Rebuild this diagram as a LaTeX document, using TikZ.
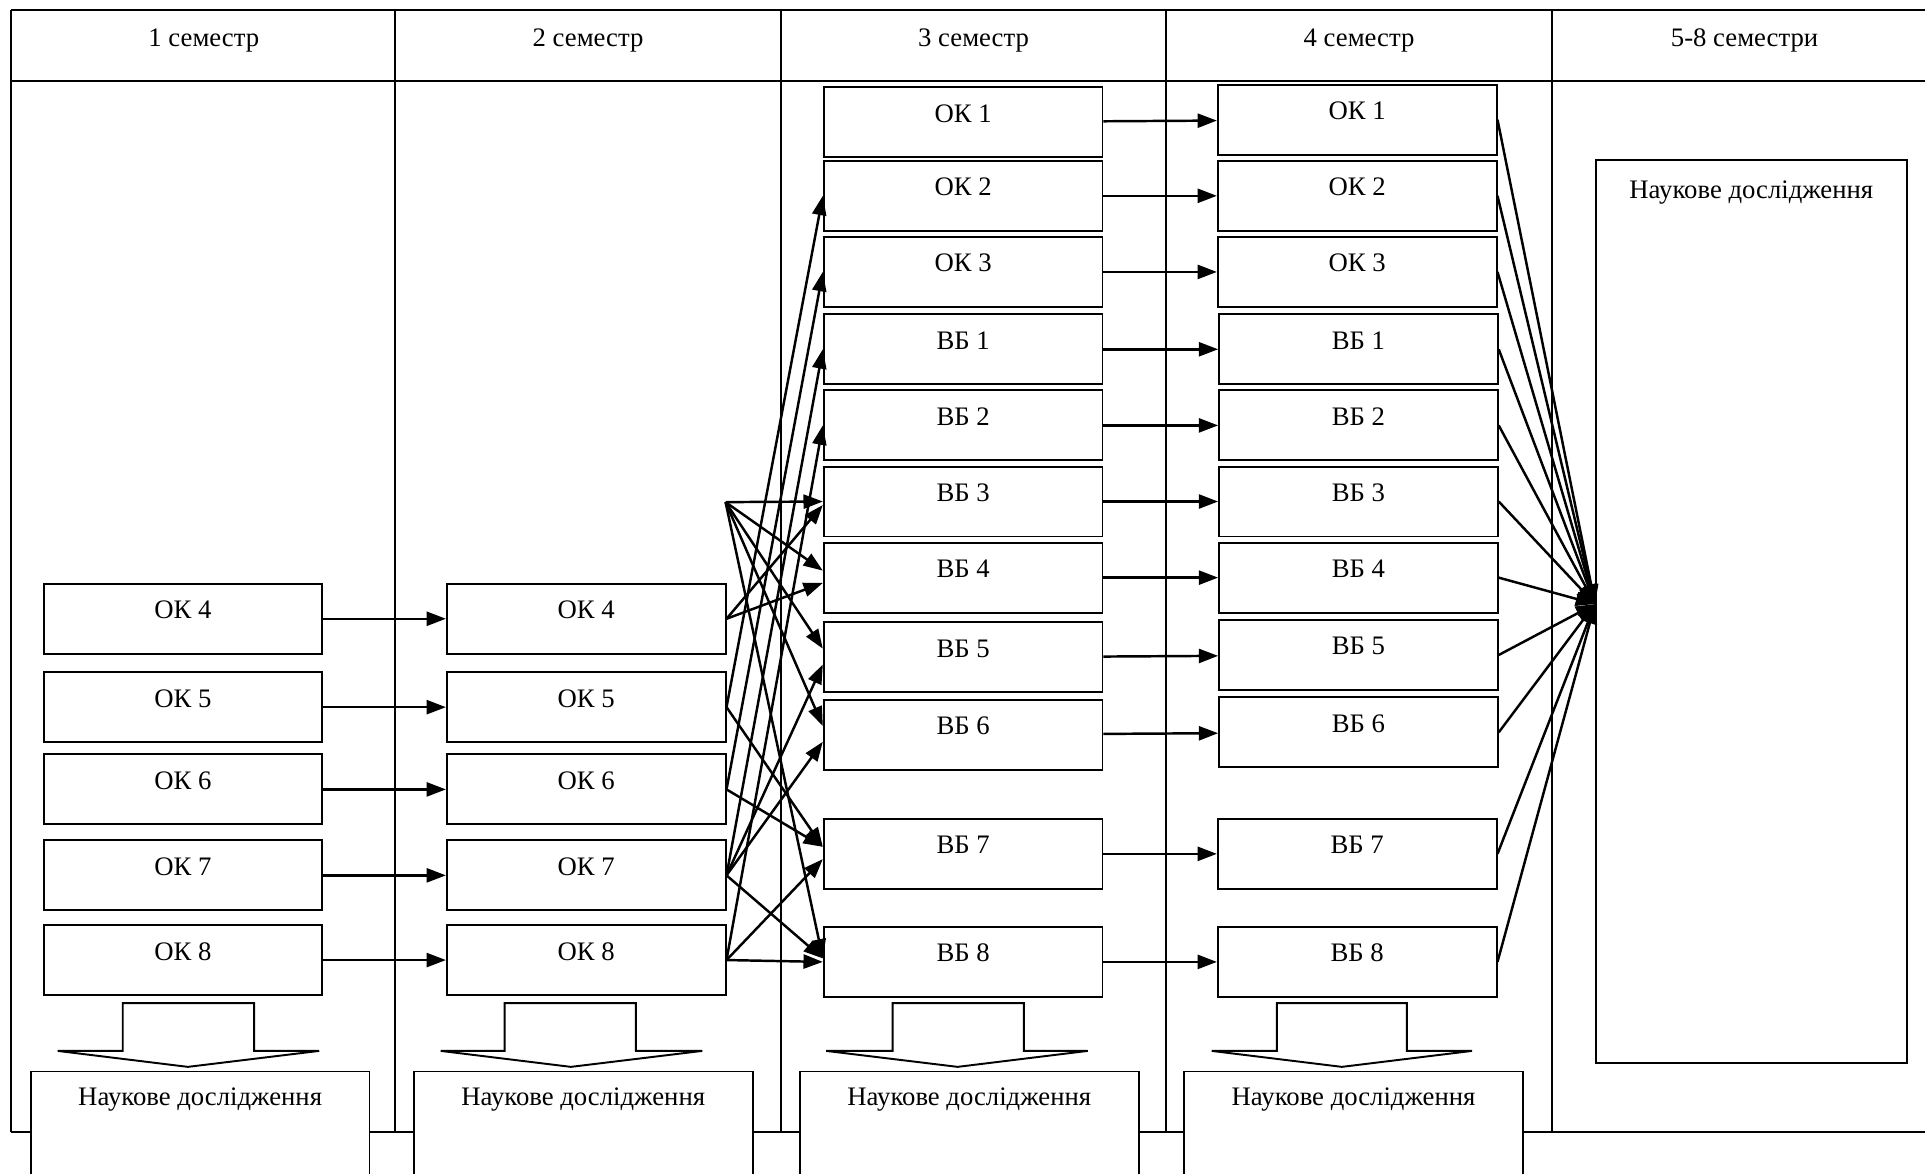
\documentclass[tikz,border=0pt]{standalone}
\usepackage{fontspec}
\setmainfont{Liberation Serif}
\usetikzlibrary{arrows.meta}

\begin{document}
\begin{tikzpicture}[
  x=0.02455cm, y=-0.02455cm,
  every node/.style={font=\fontsize{15.2}{18}\selectfont},
  course/.style={draw, line width=1.1pt, fill=white, minimum width=5.573cm, minimum height=1.399cm, inner sep=0pt, text height=8pt, text depth=8pt},
  research/.style={draw, line width=1.1pt, fill=white, anchor=north, minimum width=6.776cm, minimum height=2.111cm, inner sep=0pt, text height=8pt, text depth=29.7pt},
  downarrow/.style={draw, line width=1.1pt, fill=white},
  flowline/.style={->, line width=1.4pt},
  >={Triangle[length=11pt,width=8pt]}
]
\useasboundingbox (0,0) rectangle (1568,956);

% table frame
\draw[line width=1.1pt] (9,8) -- (1568,8);
\draw[line width=1.1pt] (9,66) -- (1568,66);
\draw[line width=1.1pt] (9,922) -- (1568,922);
\foreach \x in {9,322,636,950,1264}
  \draw[line width=1.1pt] (\x,8) -- (\x,922);

\node (sem1) at (166,33) {1 семестр};
\node (sem2) at (479,33) {2 семестр};
\node (sem3) at (793,33) {3 семестр};
\node (sem4) at (1107,33) {4 семестр};
\node (sem58) at (1421,33) {5-8 семестри};

% block arrows down to research
\draw[downarrow] (100,817) -- (207,817) -- (207,856) -- (260,856) -- (153,869) -- (47,856) -- (100,856) -- cycle;
\draw[downarrow] (411,817) -- (518,817) -- (518,856) -- (572,856) -- (465,869) -- (359,856) -- (411,856) -- cycle;
\draw[downarrow] (727,817) -- (834,817) -- (834,856) -- (886,856) -- (780,869) -- (673,856) -- (727,856) -- cycle;
\draw[downarrow] (1040,817) -- (1146,817) -- (1146,856) -- (1199,856) -- (1093,869) -- (987,856) -- (1040,856) -- cycle;

\node[research] (res1) at (163,872) {Наукове дослідження};
\node[research] (res2) at (475,872) {Наукове дослідження};
\node[research] (res3) at (789.5,872) {Наукове дослідження};
\node[research] (res4) at (1102.5,872) {Наукове дослідження};

% 1 semester
\node[course] (c1ok4) at (149,504) {ОК 4};
\node[course] (c1ok5) at (149,576) {ОК 5};
\node[course] (c1ok6) at (149,643) {ОК 6};
\node[course] (c1ok7) at (149,713) {ОК 7};
\node[course] (c1ok8) at (149,782) {ОК 8};

% 2 semester
\node[course] (c2ok4) at (477.5,504) {ОК 4};
\node[course] (c2ok5) at (477.5,576) {ОК 5};
\node[course] (c2ok6) at (477.5,643) {ОК 6};
\node[course] (c2ok7) at (477.5,713) {ОК 7};
\node[course] (c2ok8) at (477.5,782) {ОК 8};

% 3 semester
\node[course] (c3ok1) at (784.5,99.5) {ОК 1};
\node[course] (c3ok2) at (784.5,159.5) {ОК 2};
\node[course] (c3ok3) at (784.5,221.5) {ОК 3};
\node[course] (c3vb1) at (784.5,284.5) {ВБ 1};
\node[course] (c3vb2) at (784.5,346.5) {ВБ 2};
\node[course] (c3vb3) at (784.5,408.5) {ВБ 3};
\node[course] (c3vb4) at (784.5,470.5) {ВБ 4};
\node[course] (c3vb5) at (784.5,535.5) {ВБ 5};
\node[course] (c3vb6) at (784.5,598.5) {ВБ 6};
\node[course] (c3vb7) at (784.5,695.5) {ВБ 7};
\node[course] (c3vb8) at (784.5,783.5) {ВБ 8};

% 4 semester
\node[course] (c4ok1) at (1105.5,97.5) {ОК 1};
\node[course] (c4ok2) at (1105.5,159.5) {ОК 2};
\node[course] (c4ok3) at (1105.5,221.5) {ОК 3};
\node[course] (c4vb1) at (1106.5,284.5) {ВБ 1};
\node[course] (c4vb2) at (1106.5,346.5) {ВБ 2};
\node[course] (c4vb3) at (1106.5,408.5) {ВБ 3};
\node[course] (c4vb4) at (1106.5,470.5) {ВБ 4};
\node[course] (c4vb5) at (1106.5,533.5) {ВБ 5};
\node[course] (c4vb6) at (1106.5,596.5) {ВБ 6};
\node[course] (c4vb7) at (1105.5,695.5) {ВБ 7};
\node[course] (c4vb8) at (1105.5,783.5) {ВБ 8};

% 5-8 semesters
\node[draw, line width=1.1pt, minimum width=6.211cm, minimum height=18.069cm, inner sep=0pt, text height=8pt, text depth=478pt] (bigres) at (1426.5,498) {Наукове дослідження};

% 1 -> 2
\draw[flowline] (c1ok4) -- (c2ok4);
\draw[flowline] (c1ok5) -- (c2ok5);
\draw[flowline] (c1ok6) -- (c2ok6);
\draw[flowline] (c1ok7) -- (c2ok7);
\draw[flowline] (c1ok8) -- (c2ok8);

% 2 -> 3
\coordinate (split) at (591,409);
\draw[flowline] (split) -- (c3vb3.west);
\draw[flowline] (split) -- ([yshift=4pt]c3vb4.west);
\draw[flowline] (split) -- ([yshift=5pt]c3vb5.west);
\draw[flowline] (split) -- ([yshift=5pt]c3vb6.west);
\draw[flowline] (split) -- ([yshift=2pt]c3vb8.west);
\draw[flowline] (c2ok4.east) -- ([yshift=-2pt]c3vb3.west);
\draw[flowline] (c2ok4.east) -- ([yshift=-3pt]c3vb4.west);
\draw[flowline] (c2ok5.east) -- (c3ok2.west);
\draw[flowline] (c2ok5.east) -- ([yshift=4pt]c3vb7.west);
\draw[flowline] (c2ok6.east) -- (c3ok3.west);
\draw[flowline] (c2ok6.east) -- ([yshift=4pt]c3vb7.west);
\draw[flowline] (c2ok7.east) -- (c3vb1.west);
\draw[flowline] (c2ok7.east) -- ([yshift=-4pt]c3vb5.west);
\draw[flowline] (c2ok7.east) -- ([yshift=-4pt]c3vb6.west);
\draw[flowline] (c2ok7.east) -- ([yshift=2pt]c3vb8.west);
\draw[flowline] (c2ok8.east) -- (c3vb2.west);
\draw[flowline] (c2ok8.east) -- ([yshift=-3pt]c3vb7.west);
\draw[flowline] (c2ok8.east) -- (c3vb8.west);

% 3 -> 4
\draw[flowline] (c3ok1) -- (c4ok1);
\draw[flowline] (c3ok2) -- (c4ok2);
\draw[flowline] (c3ok3) -- (c4ok3);
\draw[flowline] (c3vb1) -- (c4vb1);
\draw[flowline] (c3vb2) -- (c4vb2);
\draw[flowline] (c3vb3) -- (c4vb3);
\draw[flowline] (c3vb4) -- (c4vb4);
\draw[flowline] (c3vb5) -- (c4vb5);
\draw[flowline] (c3vb6) -- (c4vb6);
\draw[flowline] (c3vb7) -- (c4vb7);
\draw[flowline] (c3vb8) -- (c4vb8);

% 4 -> research
\coordinate (hub) at (bigres.west |- 0,492);
\draw[flowline] (c4ok1.east) -- (hub);
\draw[flowline] (c4ok2.east) -- (hub);
\draw[flowline] (c4ok3.east) -- (hub);
\draw[flowline] (c4vb1.east) -- (hub);
\draw[flowline] (c4vb2.east) -- (hub);
\draw[flowline] (c4vb3.east) -- (hub);
\draw[flowline] (c4vb4.east) -- (hub);
\draw[flowline] (c4vb5.east) -- (hub);
\draw[flowline] (c4vb6.east) -- (hub);
\draw[flowline] (c4vb7.east) -- (hub);
\draw[flowline] (c4vb8.east) -- (hub);
\end{tikzpicture}
\end{document}
